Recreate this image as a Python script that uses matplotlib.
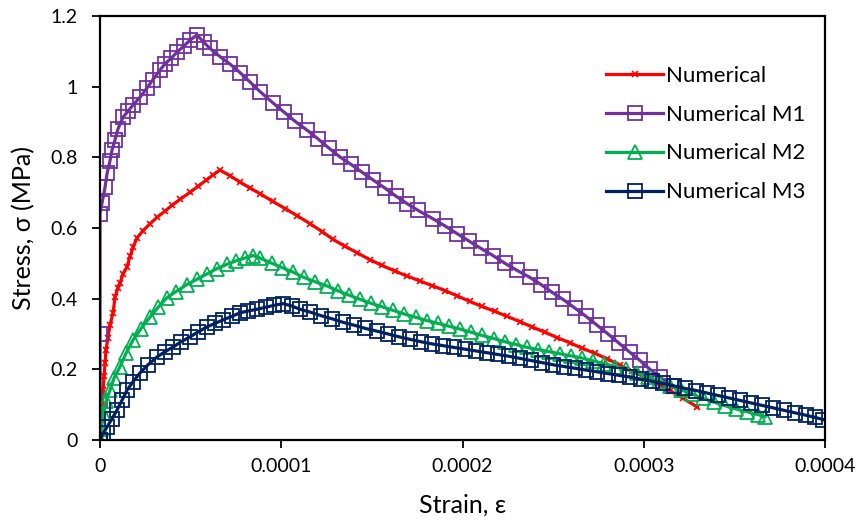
import matplotlib.pyplot as plt
import numpy as np

plt.rcParams['font.family'] = ['Lato', 'DejaVu Sans']

# strain values in units of 1e-5, stress in MPa
num_strain = [0, 0.06, 0.11, 0.17, 0.22, 0.28, 0.33, 0.44, 0.55, 0.72, 0.83, 0.99, 1.10, 1.27,
              1.49, 1.66, 1.82, 2.04, 2.37, 2.76, 3.14, 3.59, 3.97, 4.41, 4.97, 5.41, 5.85, 6.23,
              6.62, 7.17, 7.72, 8.28, 8.83, 9.54, 10.21, 10.87, 11.59, 12.25, 12.85, 13.52, 14.18,
              14.90, 15.56, 16.28, 16.94, 17.65, 18.32, 19.03, 19.70, 20.41, 21.07, 21.79, 22.45,
              23.17, 23.83, 24.55, 25.21, 25.93, 26.59, 27.31, 27.97, 28.69, 29.35, 30.07, 30.73,
              31.45, 32.16, 32.96]
num_stress = [0, 0.057, 0.10, 0.141, 0.18, 0.218, 0.255, 0.29, 0.325, 0.36, 0.405, 0.43, 0.444,
              0.47, 0.49, 0.52, 0.546, 0.572, 0.592, 0.612, 0.63, 0.648, 0.664, 0.681, 0.701,
              0.718, 0.735, 0.75, 0.764, 0.748, 0.73, 0.713, 0.697, 0.675, 0.655, 0.635, 0.612,
              0.59, 0.568, 0.548, 0.53, 0.51, 0.494, 0.478, 0.464, 0.45, 0.437, 0.423, 0.408,
              0.392, 0.378, 0.364, 0.35, 0.335, 0.32, 0.305, 0.29, 0.275, 0.26, 0.245, 0.23,
              0.212, 0.195, 0.177, 0.16, 0.14, 0.118, 0.093]

m1_strain = [0, 0, 0, 0, 0.11, 0.28, 0.39, 0.55, 0.66, 0.83, 0.99, 1.27, 1.54, 1.82, 2.21, 2.59,
             2.92, 3.31, 3.59, 3.92, 4.25, 4.63, 4.97, 5.35, 5.74, 6.07, 6.62, 7.17, 7.72, 8.28,
             8.83, 9.54, 10.15, 10.76, 11.42, 12.03, 12.63, 13.24, 13.85, 14.45, 15.06, 15.72,
             16.33, 16.94, 17.54, 18.37, 19.03, 19.70, 20.36, 21.02, 21.68, 22.34, 23.01, 23.72,
             24.33, 24.94, 25.54, 26.21, 26.81, 27.42, 28.03, 28.63, 29.24, 29.79, 30.34, 30.90,
             31.56]
m1_stress = [0, 0.11, 0.30, 0.64, 0.67, 0.716, 0.755, 0.79, 0.82, 0.85, 0.88, 0.914, 0.93,
             0.948, 0.97, 0.996, 1.02, 1.047, 1.065, 1.08, 1.098, 1.115, 1.132, 1.146, 1.125,
             1.108, 1.085, 1.064, 1.04, 1.013, 0.986, 0.954, 0.928, 0.902, 0.877, 0.852, 0.826,
             0.801, 0.78, 0.758, 0.736, 0.713, 0.69, 0.669, 0.65, 0.626, 0.606, 0.584, 0.563,
             0.542, 0.522, 0.50, 0.48, 0.46, 0.44, 0.418, 0.398, 0.373, 0.35, 0.325, 0.30,
             0.274, 0.248, 0.225, 0.20, 0.178, 0.152]

m2_strain = [0, 0.06, 0.17, 0.33, 0.55, 0.77, 1.10, 1.43, 1.82, 2.26, 2.76, 3.20, 3.70, 4.19,
             4.80, 5.35, 5.90, 6.45, 7.01, 7.50, 8.00, 8.44, 8.83, 9.49, 10.04, 10.65, 11.25,
             11.86, 12.52, 13.13, 13.74, 14.34, 14.95, 15.56, 16.16, 16.77, 17.43, 18.04, 18.65,
             19.25, 19.86, 20.47, 21.07, 21.74, 22.34, 22.95, 23.56, 24.16, 24.77, 25.38, 25.98,
             26.59, 27.20, 27.81, 28.41, 29.02, 29.63, 30.23, 30.84, 31.45, 32.05, 32.66, 33.27,
             33.87, 34.48, 35.09, 35.70, 36.30, 36.69]
m2_stress = [0, 0.03, 0.076, 0.11, 0.141, 0.175, 0.207, 0.245, 0.283, 0.315, 0.348, 0.375,
             0.403, 0.42, 0.44, 0.455, 0.47, 0.485, 0.497, 0.507, 0.515, 0.522, 0.515, 0.50,
             0.488, 0.475, 0.46, 0.448, 0.436, 0.422, 0.41, 0.398, 0.387, 0.377, 0.367, 0.357,
             0.347, 0.338, 0.33, 0.322, 0.314, 0.305, 0.296, 0.287, 0.278, 0.27, 0.262, 0.256,
             0.25, 0.244, 0.238, 0.232, 0.224, 0.216, 0.208, 0.20, 0.19, 0.178, 0.166, 0.154,
             0.142, 0.13, 0.118, 0.107, 0.097, 0.088, 0.08, 0.072, 0.066]

m3_strain = [0, 0.17, 0.39, 0.66, 0.94, 1.21, 1.49, 1.82, 2.21, 2.65, 3.14, 3.59, 4.03, 4.47,
             4.97, 5.41, 5.90, 6.34, 6.79, 7.28, 7.72, 8.17, 8.66, 9.16, 9.60, 10.10, 10.59,
             11.03, 11.59, 12.19, 12.80, 13.41, 14.01, 14.62, 15.28, 15.89, 16.50, 17.10, 17.71,
             18.32, 18.92, 19.53, 20.14, 20.74, 21.35, 21.96, 22.56, 23.17, 23.78, 24.39, 24.99,
             25.60, 26.21, 26.81, 27.42, 28.03, 28.63, 29.24, 29.85, 30.45, 31.06, 31.67, 32.27,
             32.88, 33.49, 34.09, 34.70, 35.31, 35.91, 36.52, 37.13, 37.74, 38.34, 38.95, 39.45,
             39.89]
m3_stress = [0, 0.02, 0.037, 0.06, 0.085, 0.112, 0.141, 0.165, 0.19, 0.213, 0.235, 0.25, 0.263,
             0.278, 0.292, 0.306, 0.32, 0.33, 0.34, 0.35, 0.36, 0.365, 0.37, 0.376, 0.381, 0.386,
             0.379, 0.37, 0.362, 0.352, 0.343, 0.333, 0.325, 0.316, 0.308, 0.30, 0.292, 0.285,
             0.278, 0.272, 0.267, 0.262, 0.257, 0.252, 0.247, 0.242, 0.237, 0.231, 0.225, 0.219,
             0.213, 0.208, 0.203, 0.198, 0.193, 0.188, 0.183, 0.178, 0.172, 0.166, 0.16, 0.153,
             0.146, 0.14, 0.133, 0.126, 0.119, 0.112, 0.105, 0.098, 0.091, 0.084, 0.077, 0.07,
             0.064, 0.058]

x_ticks = [0, 0.0001, 0.0002, 0.0003, 0.0004]
x_labels = ['0', '0.0001', '0.0002', '0.0003', '0.0004']
y_ticks = [0, 0.2, 0.4, 0.6, 0.8, 1.0, 1.2]
y_labels = ['0', '0.2', '0.4', '0.6', '0.8', '1', '1.2']

fig = plt.figure(figsize=(8.57, 5.24), dpi=100)
ax = fig.add_axes([0.1167, 0.1603, 0.846, 0.8092])

ax.plot(np.array(num_strain)*1e-5, num_stress, color='#FF0000', lw=2.3,
        marker='x', ms=4, mew=1.2, label='Numerical')
ax.plot(np.array(m1_strain)*1e-5, m1_stress, color='#7030A0', lw=2.3,
        marker='s', ms=9.5, mew=1.3, mfc='none', label='Numerical M1')
ax.plot(np.array(m2_strain)*1e-5, m2_stress, color='#00B050', lw=2.3,
        marker='^', ms=9.5, mew=1.3, mfc='none', label='Numerical M2')
ax.plot(np.array(m3_strain)*1e-5, m3_stress, color='#002060', lw=2.3,
        marker='s', ms=9.5, mew=1.3, mfc='none', label='Numerical M3')

ax.set_xlim(0, 0.0004)
ax.set_ylim(0, 1.2)
ax.set_xticks(x_ticks, x_labels)
ax.set_yticks(y_ticks, y_labels)
ax.tick_params(direction='out', length=6, width=1.3, labelsize=14)
ax.tick_params(axis='y', pad=10)
ax.tick_params(axis='x', pad=7)
for s in ax.spines.values():
    s.set_linewidth(1.6)
    s.set_color('black')

ax.set_xlabel('Strain, ε', fontsize=18, labelpad=13)
ax.set_ylabel('Stress, σ (MPa)', fontsize=18, labelpad=11)

leg = ax.legend(loc='upper right', bbox_to_anchor=(1.0, 0.93), frameon=False,
                fontsize=16, handlelength=2.6, numpoints=1, labelspacing=0.85,
                handletextpad=0.1)

fig.savefig('out.png', dpi=100)
